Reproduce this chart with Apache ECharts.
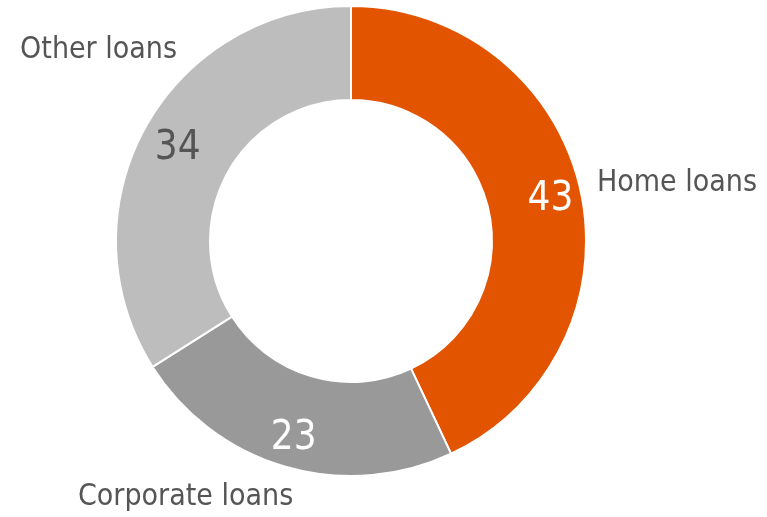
<!DOCTYPE html>
<html>
<head>
<meta charset="utf-8">
<script src="https://cdn.jsdelivr.net/npm/echarts@6/dist/echarts.min.js"></script>
<style>
  html, body { margin: 0; padding: 0; background: #fff; }
  #chart { width: 767px; height: 517px; }
</style>
</head>
<body>
<div id="chart"></div>
<script>
const categories = ['Home loans', 'Corporate loans', 'Other loans']
const values = [43, 23, 34]
const colors = ['#e35400', '#999999', '#bdbdbd']
const numColors = ['#ffffff', '#ffffff', '#555555']

// small nudges for the numbers inside the ring
const numShift = [[13, 0], [-4, 14], [-6, 0]]

// where the category names sit (fixed, like in the source picture)
const namePos = [
    { x: 597, y: 183, align: 'left' },
    { x: 78, y: 497, align: 'left' },
    { x: 177, y: 50, align: 'right' },
]

const font = '"DejaVu Sans Condensed", "Liberation Sans Narrow", sans-serif'

const chart = echarts.init(document.getElementById('chart'))

const option = {
    animation: false,
    series: [
        {
            type: 'pie',
            center: [351, 241],
            radius: [141, 235],
            startAngle: 90,
            clockwise: true,
            itemStyle: { borderColor: '#fff', borderWidth: 2 },
            label: {
                position: 'inside',
                formatter: '{c}',
                fontFamily: font,
                fontSize: 40,
                overflow: 'none',
            },
            labelLine: { show: false },
            labelLayout: (params) => ({
                dx: numShift[params.dataIndex][0],
                dy: numShift[params.dataIndex][1],
            }),
            emphasis: { disabled: true },
            data: values.map((v, i) => ({
                value: v,
                name: categories[i],
                itemStyle: { color: colors[i] },
                label: { color: numColors[i] },
            })),
        },
        {
            // invisible copy only for the category names
            type: 'pie',
            center: [351, 241],
            radius: [141, 235],
            startAngle: 90,
            silent: true,
            itemStyle: { color: 'transparent' },
            label: {
                position: 'outside',
                formatter: '{b}',
                color: '#555555',
                fontFamily: font,
                fontSize: 30,
                overflow: 'none',
                width: 400,
            },
            labelLine: { show: false },
            labelLayout: (params) => {
                const p = namePos[params.dataIndex]
                return { x: p.x, y: p.y, align: p.align, verticalAlign: 'middle' }
            },
            emphasis: { disabled: true },
            data: values.map((v, i) => ({ value: v, name: categories[i] })),
        },
    ],
}

chart.setOption(option)
</script>
</body>
</html>
